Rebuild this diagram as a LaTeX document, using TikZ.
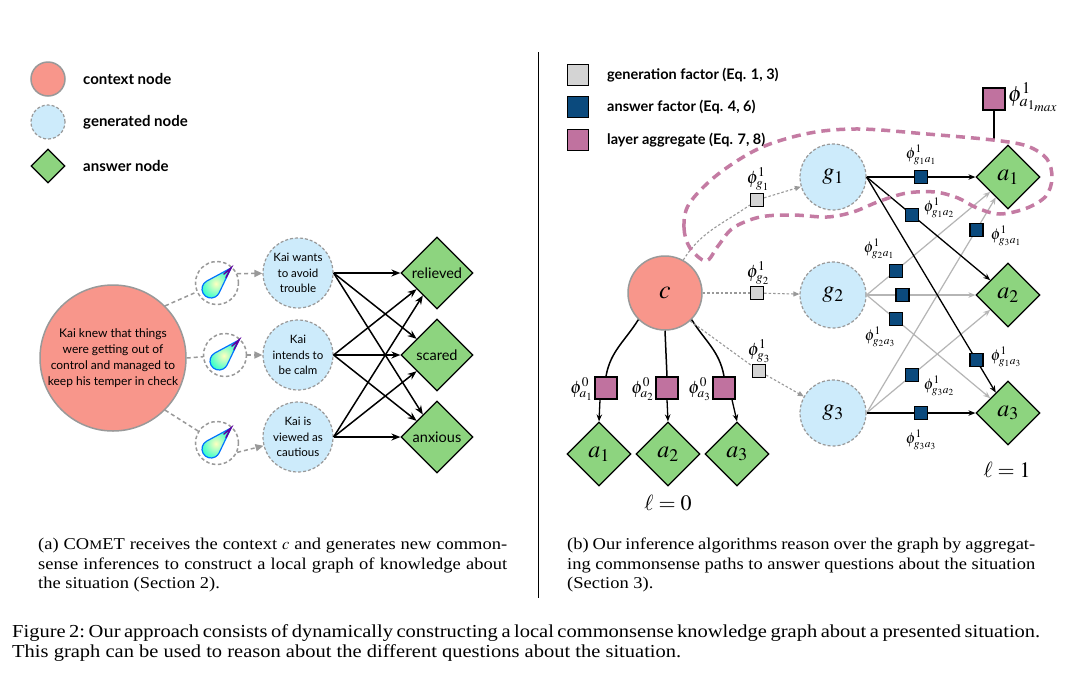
\documentclass[tikz,border=0pt]{standalone}
\usepackage{mathptmx}
\usepackage[no-math]{fontspec}
\setmainfont{Liberation Serif}
\newfontfamily\capfont[FakeStretch=1.12]{Liberation Serif}
\newfontfamily\lato{Lato}
\usetikzlibrary{shapes.geometric,arrows.meta,calc}
\definecolor{ctxfill}{HTML}{F8968B}
\definecolor{genfill}{HTML}{CDEBFB}
\definecolor{ansfill}{HTML}{8DD47F}
\definecolor{afacc}{HTML}{0B4A7D}
\definecolor{pinkc}{HTML}{C0729F}
\definecolor{loopc}{HTML}{C47BA3}
\definecolor{gfacc}{HTML}{D4D4D4}
\definecolor{edgegray}{HTML}{999999}
\definecolor{lightedge}{HTML}{B5B5B5}
\tikzset{
  drop/.pic={
    \shade[inner color=yellow!25!white, outer color=cyan!75!green!80, draw=blue!55!cyan, line width=1.2pt]
      (14,15) -- (-10.27,1.92) arc[start angle=118.3, end angle=334.5, radius=9] -- cycle;
    \draw[violet!75!blue, line width=1.5pt, line cap=round] (7,9) -- (14,15) -- (9,5.5);
  }
}
\begin{document}
\begin{tikzpicture}[x=1pt,y=1pt,
  ctx/.style={circle, fill=ctxfill, draw=edgegray, line width=1.5pt, inner sep=0pt},
  gen/.style={circle, fill=genfill, draw=edgegray, dash pattern=on 3pt off 2pt, line width=1.2pt, inner sep=0pt},
  dropc/.style={circle, draw=edgegray, dash pattern=on 3.5pt off 2.5pt, line width=1.5pt, minimum size=43pt, inner sep=0pt},
  ans/.style={diamond, aspect=1, fill=ansfill, draw=black, line width=1.2pt, inner sep=0pt},
  sqbox/.style={rectangle, draw=black, line width=1.2pt, inner sep=0pt},
  gsq/.style={sqbox, fill=gfacc, minimum size=13pt},
  bsq/.style={sqbox, fill=afacc, minimum size=13pt},
  psq/.style={sqbox, fill=pinkc, minimum size=22pt, line width=1.5pt},
  legtxt/.style={font=\lato\bfseries\fontsize{15}{17}\selectfont, anchor=west, inner sep=0pt},
  legtxtb/.style={font=\lato\bfseries\fontsize{14.5}{16}\selectfont, anchor=west, inner sep=0pt},
  kaitxt/.style={font=\lato\fontsize{11.5}{15.5}\selectfont, align=center},
  anstxt/.style={font=\lato\fontsize{14.5}{16}\selectfont},
  bigm/.style={font=\fontsize{24}{24}\selectfont},
  glab/.style={font=\fontsize{18}{18}\selectfont, inner sep=0pt},
  alab/.style={font=\fontsize{15.5}{15.5}\selectfont, inner sep=0pt},
  ldash/.style={edgegray, dash pattern=on 4pt off 3pt, line width=1.5pt},
  ldarrow/.style={ldash, -{Triangle[length=8pt,width=7pt]}},
  rdot/.style={edgegray, dash pattern=on 2.5pt off 2pt, line width=1.1pt},
  rdarrow/.style={rdot, -{Triangle[length=6pt,width=5pt]}},
  blk/.style={black, line width=1.5pt, -{Stealth[length=9pt,width=7pt]}},
  blks/.style={black, line width=1.3pt, -{Stealth[length=7pt,width=5.5pt]}},
  lg/.style={lightedge, line width=1.2pt, -{Stealth[length=7pt,width=5.5pt]}},
  capt/.style={font=\capfont\fontsize{16.5}{19.5}\selectfont, inner sep=0pt, anchor=north west, align=justify},
  captf/.style={font=\capfont\frenchspacing\fontsize{18.3}{20.5}\selectfont, inner sep=0pt, anchor=north west, align=justify}
]
\useasboundingbox (0,0) rectangle (1068,-681);
\fill[white] (0,0) rectangle (1068,-681);

% ---------- left legend ----------
\node[ctx, minimum size=34pt] (lgc) at (48,-79) {};
\node[gen, minimum size=34pt] (lgg) at (48,-122) {};
\node[ans, minimum size=34pt] (lga) at (48,-166) {};
\node[legtxt] (lgct) at (83,-79) {context node};
\node[legtxt] (lggt) at (83,-122) {generated node};
\node[legtxt] (lgat) at (83,-166) {answer node};

% ---------- left graph ----------
\node[ctx, minimum size=146pt, align=center, font=\lato\fontsize{12}{16}\selectfont] (ctxL) at (113,-358)
  {Kai knew that things\\were getting out of\\control and managed to\\keep his temper in check};
\node[dropc] (d1) at (217,-283) {};
\node[dropc] (d2) at (225,-355) {};
\node[dropc] (d3) at (217,-443) {};
\pic at (d1) {drop};
\pic at (d2) {drop};
\pic at (d3) {drop};
\node[gen, minimum size=70pt, kaitxt] (gL1) at (298,-273) {Kai wants\\to avoid\\trouble};
\node[gen, minimum size=70pt, kaitxt] (gL2) at (298,-355) {Kai\\intends to\\be calm};
\node[gen, minimum size=70pt, kaitxt] (gL3) at (298,-437) {Kai is\\viewed as\\cautious};
\node[ans, minimum size=72pt, anstxt] (rel) at (437,-273) {relieved};
\node[ans, minimum size=72pt, anstxt] (sca) at (437,-355) {scared};
\node[ans, minimum size=72pt, anstxt] (anx) at (437,-437) {anxious};

\draw[ldash] (ctxL.45) -- (d1);
\draw[ldash] (ctxL.east) -- (d2);
\draw[ldash] (ctxL.-45) -- (d3);
\draw[ldarrow] (d1.25) -- (gL1);
\draw[ldarrow] (d2) -- (gL2);
\draw[ldarrow] (d3.-25) -- (gL3);

\foreach \s in {gL1,gL2,gL3}{
  \foreach \t in {rel,sca,anx}{
    \draw[blk] (\s.east) -- (\t);
  }
}

% ---------- separator ----------
\coordinate (septop) at (538,-52);
\coordinate (sepbot) at (538,-598);
\draw[black, line width=1pt] (septop) -- (sepbot);

% ---------- right legend ----------
\node[sqbox, fill=gfacc, minimum size=21pt, line width=1.5pt] (rlg1) at (578,-75) {};
\node[sqbox, fill=afacc, minimum size=21pt, line width=1.5pt] (rlg2) at (578,-107) {};
\node[sqbox, fill=pinkc, minimum size=21pt, line width=1.5pt] (rlg3) at (578,-140) {};
\node[legtxtb] (rlg1t) at (607,-75) {generation factor (Eq. 1, 3)};
\node[legtxtb] (rlg2t) at (607,-107) {answer factor (Eq. 4, 6)};
\node[legtxtb] (rlg3t) at (607,-140) {layer aggregate (Eq. 7, 8)};

% ---------- right graph nodes ----------
\node[ctx, minimum size=74pt, font=\fontsize{26}{26}\selectfont] (c) at (665,-293) {$c$};
\node[gen, minimum size=66pt, bigm] (g1) at (833,-177) {$g_1$};
\node[gen, minimum size=66pt, bigm] (g2) at (833,-295) {$g_2$};
\node[gen, minimum size=66pt, bigm] (g3) at (833,-413) {$g_3$};
\node[ans, minimum size=64pt, bigm] (a1) at (1008,-177) {$a_1$};
\node[ans, minimum size=64pt, bigm] (a2) at (1008,-295) {$a_2$};
\node[ans, minimum size=64pt, bigm] (a3) at (1008,-413) {$a_3$};
\node[ans, minimum size=64pt, bigm] (la1) at (599,-454) {$a_1$};
\node[ans, minimum size=64pt, bigm] (la2) at (668,-454) {$a_2$};
\node[ans, minimum size=64pt, bigm] (la3) at (737,-454) {$a_3$};

% layer 0 aggregates
\node[psq] (p1) at (606,-388) {};
\node[psq] (p2) at (667,-388) {};
\node[psq] (p3) at (724,-388) {};
\node[glab, anchor=east] (p1l) at (593,-389) {$\phi^0_{a_1}$};
\node[glab, anchor=east] (p2l) at (654,-389) {$\phi^0_{a_2}$};
\node[glab, anchor=east] (p3l) at (711,-389) {$\phi^0_{a_3}$};
\draw[black, line width=1.5pt] (c.225) to[out=238, in=80] (p1.north);
\draw[black, line width=1.5pt] (c.south) -- (p2.north);
\draw[black, line width=1.5pt] (c.-45) to[out=-58, in=100] (p3.north);
\draw[blks] ([xshift=-6pt]p1.south) -- (la1.north);
\draw[blks] (p2.south) -- (la2.north);
\draw[blks] ([xshift=8pt]p3.south) -- (la3.north);

% generation factors
\node[gsq] (gf1) at (757,-200) {};
\node[gsq] (gf2) at (757,-293) {};
\node[gsq] (gf3) at (759,-371) {};
\node[glab] (gf1l) at (758,-179) {$\phi^1_{g_1}$};
\node[glab] (gf2l) at (758,-273) {$\phi^1_{g_2}$};
\node[glab] (gf3l) at (759,-351) {$\phi^1_{g_3}$};
\draw[rdot] (c.61) to[out=58, in=215] (gf1);
\draw[rdarrow] (gf1) -- (g1);
\draw[rdot] (c.east) -- (gf2);
\draw[rdarrow] (gf2) -- (g2);
\draw[rdot] (c.-48) -- (gf3);
\draw[rdarrow] (gf3) -- (g3);

% answer factors (gray first)
\draw[lg] (g2.east) -- node[bsq, pos=0.235] (f21) {} (a1);
\draw[lg] (g2.east) -- node[bsq, pos=0.33] (f22) {} (a2);
\draw[lg] (g2.east) -- node[bsq, pos=0.235] (f23) {} (a3);
\draw[lg] (g3.east) -- node[bsq, pos=0.85] (f31) {} (a1);
\draw[lg] (g3.east) -- node[bsq, pos=0.37] (f32) {} (a2);
\draw[blks] (g1.east) -- node[bsq, pos=0.5] (f11) {} (a1);
\draw[blks] (g1.east) -- node[bsq, pos=0.37] (f12) {} (a2);
\draw[blks] (g1.east) -- node[bsq, pos=0.85] (f13) {} (a3);
\draw[blks] (g3.east) -- node[bsq, pos=0.5] (f33) {} (a3);

\node[alab] (f11l) at (921,-155) {$\phi^1_{g_1a_1}$};
\node[alab] (f12l) at (939,-208) {$\phi^1_{g_1a_2}$};
\node[alab] (f13l) at (1006,-357) {$\phi^1_{g_1a_3}$};
\node[alab] (f21l) at (879,-249) {$\phi^1_{g_2a_1}$};
\node[alab] (f23l) at (880,-337) {$\phi^1_{g_2a_3}$};
\node[alab] (f31l) at (1006,-236) {$\phi^1_{g_3a_1}$};
\node[alab] (f32l) at (939,-386) {$\phi^1_{g_3a_2}$};
\node[alab] (f33l) at (921,-440) {$\phi^1_{g_3a_3}$};

% max aggregate
\node[psq] (pmax) at (994,-99) {};
\node[font=\fontsize{22}{22}\selectfont, anchor=west, inner sep=0pt] (pmaxl) at (1008,-97) {$\phi^1_{a_{1_{max}}}$};
\coordinate (pmaxend) at (994,-140);
\draw[black, line width=2.5pt] (pmax.south) -- (pmaxend);

% layer loop
\draw[loopc, line width=3.5pt, dash pattern=on 9pt off 6pt]
  plot[smooth cycle, tension=0.55] coordinates {
   (690,-248) (684,-228) (689,-204) (717,-175) (760,-148) (810,-133) (860,-129) (927,-134)
   (993,-140) (1027,-146) (1047,-159) (1052,-178) (1046,-196) (1027,-208) (1000,-214)
   (977,-208) (958,-198) (935,-192) (907,-193) (880,-201) (853,-212) (827,-217)
   (793,-215) (760,-217) (733,-228) (718,-246) (706,-261)};

% layer labels
\node[font=\fontsize{22}{22}\selectfont] (l0) at (668,-503) {$\ell = 0$};
\node[font=\fontsize{22}{22}\selectfont] (l1) at (1007,-470) {$\ell = 1$};

% ---------- captions ----------
\node[capt, text width=469pt] (capa) at (38,-538)
  {(a) CO{\fontsize{13}{13}\selectfont M}ET receives the context $c$ and generates new common-\linebreak
   sense inferences to construct a local graph of knowledge about\linebreak
   the situation (Section 2).};
\node[capt, text width=468pt] (capb) at (567,-538)
  {(b) Our inference algorithms reason over the graph by aggregat-\linebreak
   ing commonsense paths to answer questions about the situation\linebreak
   (Section 3).};
\node[captf, text width=1028pt] (capf) at (12,-624)
  {Figure 2: Our approach consists of dynamically constructing a local commonsense knowledge graph about a presented situation.\linebreak
   This graph can be used to reason about the different questions about the situation.};
\end{tikzpicture}
\end{document}
